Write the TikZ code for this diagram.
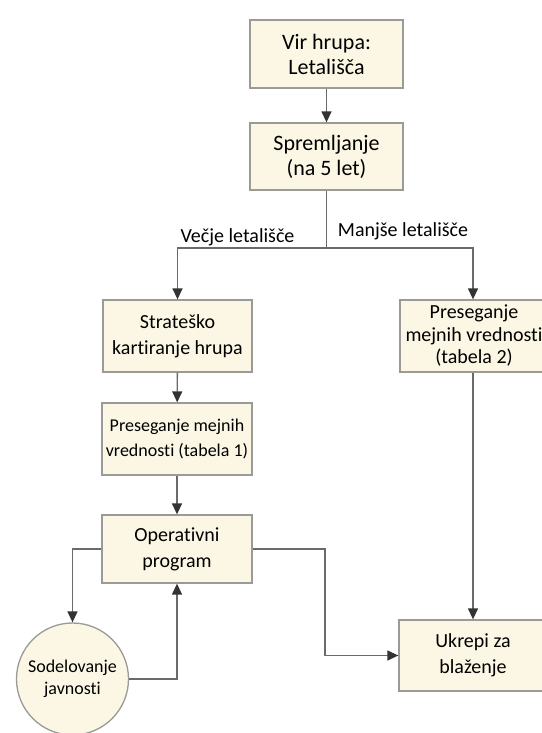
\documentclass[tikz,border=0pt]{standalone}
\usepackage{fontspec}
\setmainfont{Carlito}[Ligatures={NoCommon}]
\usetikzlibrary{arrows.meta,shapes.geometric}
\definecolor{boxfill}{HTML}{FCF7E4}
\definecolor{boxline}{HTML}{9A9A96}
\definecolor{wire}{HTML}{6A6A6A}
\definecolor{tipc}{HTML}{333333}
\tikzset{
  flowbox/.style={draw=boxline, line width=1.3bp, fill=boxfill, align=center,
    inner sep=0pt, font=\fontsize{20bp}{26bp}\selectfont},
  topbox/.style={flowbox, font=\fontsize{22bp}{25bp}\selectfont},
  smallbox/.style={flowbox, font=\fontsize{18bp}{25bp}\selectfont},
  roundbox/.style={draw=boxline, line width=1.3bp, fill=boxfill, circle, align=center,
    inner sep=0pt, minimum size=112bp, font=\fontsize{18bp}{22bp}\selectfont},
  wirearrow/.style={draw=wire, line width=1.4bp,
    -{Triangle[length=11bp,width=10bp,color=tipc]}},
  wireline/.style={draw=wire, line width=1.4bp},
  branchlabel/.style={font=\fontsize{20bp}{24bp}\selectfont, inner sep=0pt}
}
\begin{document}
\begin{tikzpicture}[x=1bp,y=-1bp]
  \useasboundingbox (0,0) rectangle (542,733);
  \begin{scope}
  \clip (0,0) rectangle (542,733);

  % boxes
  \node[topbox, minimum width=153bp, minimum height=68bp] (src) at (326.5,54) {Vir hrupa:\\Letališča};
  \node[topbox, minimum width=153bp, minimum height=67bp] (mon) at (326.5,156.5) {Spremljanje\\(na 5 let)};
  \node[flowbox, minimum width=149bp, minimum height=72bp] (strat) at (177.5,336) {Strateško\\kartiranje hrupa};
  \node[smallbox, minimum width=150bp, minimum height=72bp] (exc1) at (177,439) {Preseganje mejnih\\vrednosti (tabela 1)};
  \node[flowbox, minimum width=150bp, minimum height=68bp] (op) at (177,549) {Operativni\\program};
  \node[flowbox, font=\fontsize{20bp}{22.5bp}\selectfont, minimum width=148bp, minimum height=72bp] (exc2) at (474,336) {Preseganje\\mejnih vrednosti\\(tabela 2)};
  \node[flowbox, minimum width=148bp, minimum height=71bp] (mit) at (473,655.5) {Ukrepi za\\blaženje};
  \node[roundbox] (pub) at (72.5,679) {Sodelovanje\\javnosti};

  % branch labels
  \node[branchlabel] (lbig) at (237.5,237) {Večje letališče};
  \node[branchlabel] (lsmall) at (403,231) {Manjše letališče};

  % connectors
  \coordinate (split) at (326.5,248);
  \coordinate (bend) at (325,549);
  \draw[wirearrow] (src) -- (mon);
  \draw[wireline] (mon.south) -- (split);
  \draw[wirearrow] (split) -| (strat.north);
  \draw[wirearrow] (split) -| (exc2.north -| mit.north);
  \draw[wirearrow] (strat) -- (exc1);
  \draw[wirearrow] (exc1) -- (op);
  \draw[wirearrow] (op.west) -| (pub.north);
  \draw[wirearrow] (pub.east) -| (op.south);
  \draw[wirearrow] (op.east) -- (bend) |- (mit.west);
  \draw[wirearrow] (exc2.south -| mit.north) -- (mit.north);
  \end{scope}
\end{tikzpicture}
\end{document}
